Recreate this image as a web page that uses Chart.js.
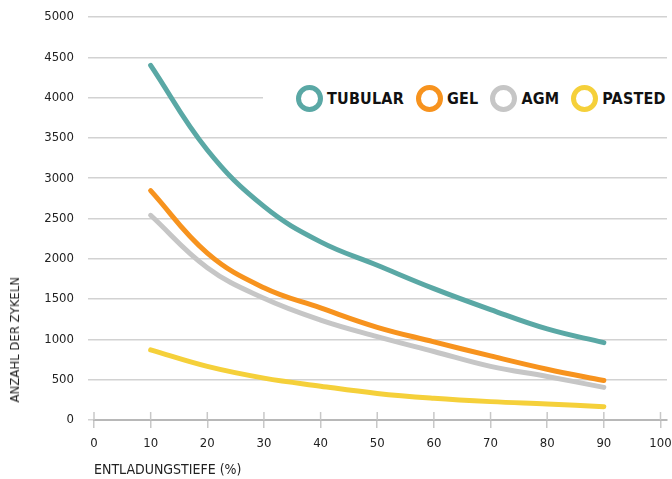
<!DOCTYPE html>
<html lang="de">
<head>
<meta charset="utf-8">
<title>Zyklen nach Entladungstiefe</title>
<script src="https://cdn.jsdelivr.net/npm/chart.js@4.4.0/dist/chart.umd.min.js"></script>
<style>
    body { margin: 0; background: #fff; }
    #wrap { position: relative; width: 672px; height: 479px; }
    #legend {
        position: absolute; top: 84px; left: 263px; right: 0; height: 28px;
        background: #fff; display: flex; align-items: center; padding-left: 33px;
    }
    .item { display: flex; align-items: center; margin-right: 12px; }
    .ring {
        width: 27px; height: 27px; box-sizing: border-box; border-radius: 50%;
        border: 5px solid #000; margin-right: 4px;
    }
    .item span {
        font: bold 16px "DejaVu Sans Condensed", "DejaVu Sans", sans-serif;
        letter-spacing: 0.2px; color: #111;
    }
    #ytitle {
        position: absolute; left: 8px; bottom: 77px;
        writing-mode: vertical-rl; transform: rotate(180deg);
        font: 13px "DejaVu Sans Condensed", "DejaVu Sans", sans-serif;
        line-height: 14px; color: #222; white-space: nowrap;
    }
</style>
</head>
<body>
<div id="wrap">
    <canvas id="cycleChart" width="672" height="479"></canvas>
    <div id="legend"></div>
    <div id="ytitle">ANZAHL DER ZYKELN</div>
</div>
<script>
// Entladungstiefe (%) und Zyklen je Batterietyp
const depth   = [10, 20, 30, 40, 50, 60, 70, 80, 90];
const tubular = [4400, 3350, 2650, 2210, 1920, 1630, 1370, 1130, 960];
const gel     = [2845, 2070, 1640, 1390, 1150, 970, 795, 630, 490];
const agm     = [2540, 1890, 1510, 1240, 1035, 850, 665, 540, 405];
const pasted  = [870, 665, 520, 420, 330, 270, 228, 198, 165];

const seriesNames  = ['TUBULAR', 'GEL', 'AGM', 'PASTED'];
const seriesColors = ['#5aa8a5', '#f7931e', '#c6c6c6', '#f5d03a'];
const seriesValues = [tubular, gel, agm, pasted];

const xTicks = [0, 10, 20, 30, 40, 50, 60, 70, 80, 90, 100];
const yTicks = [0, 500, 1000, 1500, 2000, 2500, 3000, 3500, 4000, 4500, 5000];

const font = '"DejaVu Sans Condensed", "DejaVu Sans", sans-serif';
const textColor = '#222';

// kurze Striche oberhalb der x-Achse
const tickMarksAbove = {
    id: 'tickMarksAbove',
    beforeDatasetsDraw(chart) {
        const xs = chart.scales.x;
        const ctx = chart.ctx;
        const y0 = chart.chartArea.bottom;
        ctx.save();
        ctx.strokeStyle = '#c8c8c8';
        ctx.lineWidth = 1.5;
        xs.ticks.forEach(t => {
            const px = xs.getPixelForValue(t.value);
            ctx.beginPath();
            ctx.moveTo(px, y0 - 8);
            ctx.lineTo(px, y0);
            ctx.stroke();
        });
        ctx.restore();
    }
};

const datasets = seriesNames.map((name, i) => ({
    label: name,
    data: seriesValues[i].map((v, j) => ({ x: depth[j], y: v })),
    borderColor: seriesColors[i],
    backgroundColor: seriesColors[i],
    borderWidth: 5,
    borderCapStyle: 'round',
    borderJoinStyle: 'round',
    pointRadius: 0,
    tension: 0.4,
    fill: false
}));

const ctx = document.getElementById('cycleChart').getContext('2d');
new Chart(ctx, {
    type: 'line',
    data: { datasets: datasets },
    options: {
        responsive: false,
        animation: false,
        devicePixelRatio: 1,
        layout: { padding: { top: 17, right: 5, left: 0, bottom: 0 } },
        plugins: {
            legend: { display: false },
            tooltip: { enabled: false }
        },
        scales: {
            x: {
                type: 'linear',
                min: 0,
                max: 101.15,
                afterBuildTicks: scale => { scale.ticks = xTicks.map(v => ({ value: v })); },
                afterFit: scale => {
                    scale.height = 59;
                    scale.paddingLeft = 0;
                    scale.paddingRight = 0;
                },
                grid: {
                    drawOnChartArea: false,
                    drawTicks: true,
                    tickLength: 8,
                    color: '#c8c8c8',
                    lineWidth: 1.5
                },
                border: { display: true, color: '#b8b8b8', width: 2 },
                ticks: {
                    padding: 8,
                    color: textColor,
                    font: { family: font, size: 13 },
                    maxRotation: 0,
                    callback: v => String(v)
                },
                title: {
                    display: true,
                    text: 'ENTLADUNGSTIEFE (%)',
                    align: 'start',
                    color: textColor,
                    font: { family: font, size: 14 },
                    padding: 0
                }
            },
            y: {
                min: 0,
                max: 5000,
                afterBuildTicks: scale => { scale.ticks = yTicks.map(v => ({ value: v })); },
                afterFit: scale => {
                    scale.width = 94;
                    scale.paddingTop = 0;
                    scale.paddingBottom = 0;
                },
                grid: {
                    color: '#d2d2d2',
                    lineWidth: 1.5,
                    tickLength: 6
                },
                border: { display: false },
                ticks: {
                    padding: 14,
                    color: textColor,
                    font: { family: font, size: 13 },
                    callback: v => String(v)
                }
            }
        }
    },
    plugins: [tickMarksAbove]
});

// Legende als HTML
const legend = document.getElementById('legend');
seriesNames.forEach((name, i) => {
    const item = document.createElement('div');
    item.className = 'item';
    const ring = document.createElement('div');
    ring.className = 'ring';
    ring.style.borderColor = seriesColors[i];
    const label = document.createElement('span');
    label.textContent = name;
    item.appendChild(ring);
    item.appendChild(label);
    legend.appendChild(item);
});
</script>
</body>
</html>
